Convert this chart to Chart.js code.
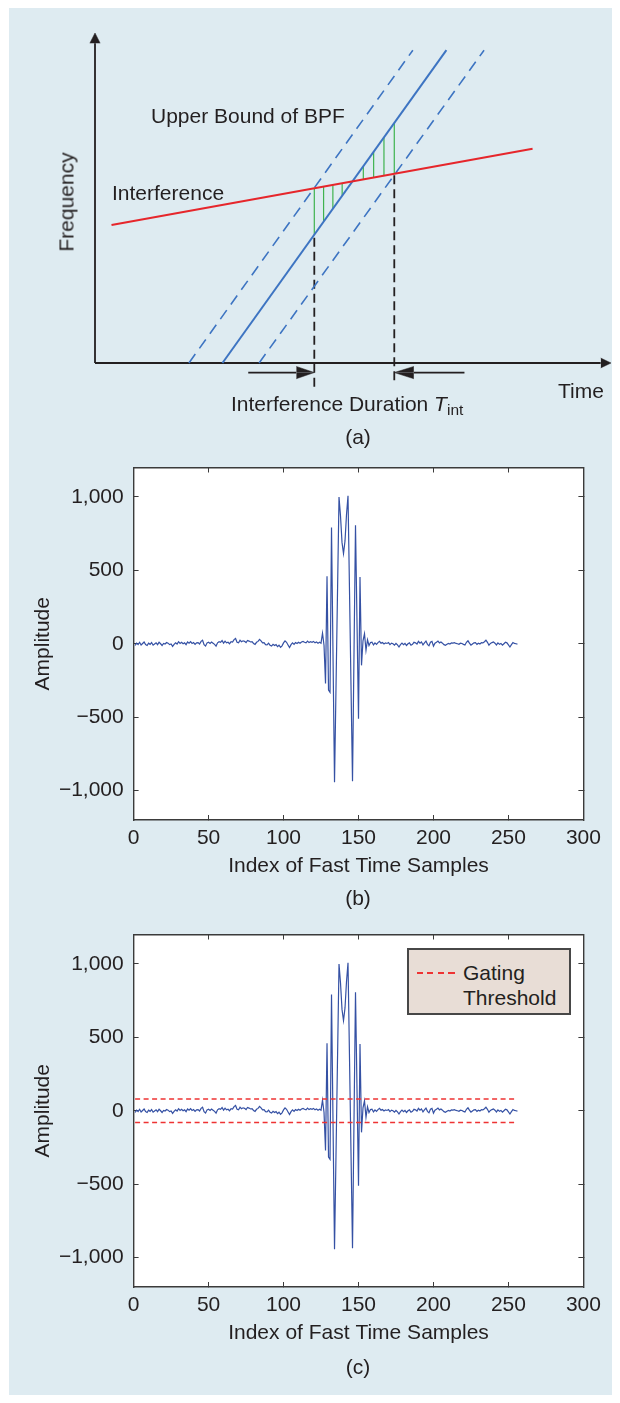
<!DOCTYPE html>
<html>
<head>
<meta charset="utf-8">
<script src="https://cdn.jsdelivr.net/npm/chart.js@4.4.1/dist/chart.umd.min.js"></script>
<style>
  body { margin: 0; width: 620px; height: 1403px; position: relative; overflow: hidden; background: #fff;
         font-family: "Liberation Sans", Arial, Helvetica, sans-serif; color: #231f20; }
  #bg { position: absolute; left: 9px; top: 8px; width: 603px; height: 1387px; background: #deebf1; }
  canvas { position: absolute; left: 0; }
  .lbl { position: absolute; font-size: 21px; line-height: 21px; white-space: nowrap; }
  .cap { transform: translateX(-50%); }
  #freq { transform: translate(-50%, -50%) rotate(-90deg); }
  #gateKey { position: absolute; left: 407px; top: 948px; width: 160px; height: 63px;
             background: #e8ddd6; border: 2px solid #474747; }
  #gateKey .swatch { position: absolute; left: 8px; top: 22px; width: 38px; height: 1.5px;
             background: repeating-linear-gradient(90deg, #ee3333 0 6px, transparent 6px 10.5px); }
  #gateKey .txt { position: absolute; left: 54px; top: 10px; font-size: 21px; line-height: 25px; }
</style>
</head>
<body>
<div id="bg"></div>
<canvas id="schematic" width="620" height="440" style="top:0"></canvas>
<canvas id="rawSig" width="620" height="460" style="top:440px"></canvas>
<canvas id="gatedSig" width="620" height="460" style="top:907px"></canvas>

<div class="lbl" style="left:151px;top:105px">Upper Bound of BPF</div>
<div class="lbl" style="left:112px;top:182px">Interference</div>
<div class="lbl" id="freq" style="left:66px;top:202px">Frequency</div>
<div class="lbl" style="left:558px;top:380px">Time</div>
<div class="lbl" style="left:231px;top:393px">Interference Duration <i>T</i><span style="font-size:15.5px;position:relative;top:4px">int</span></div>
<div class="lbl cap" style="left:358px;top:426px">(a)</div>
<div class="lbl cap" style="left:358px;top:887px">(b)</div>
<div class="lbl cap" style="left:358px;top:1356px">(c)</div>
<div id="gateKey"><div class="swatch"></div><div class="txt">Gating<br>Threshold</div></div>

<script>
/* ---- (a) schematic: arbitrary units, axis corner = (0,0), arrow tips = 100 ---- */
const chirpT     = [24.7, 68.1];          // receiver chirp, solid blue
const bpfUpperT  = [18.2, 61.6];          // dashed, upper bound of BPF
const bpfLowerT  = [31.8, 75.4];          // dashed, lower bound of BPF
const chirpF     = [0, 94.8];
const interfT    = [3.2, 84.8];           // interference, red
const interfF    = [41.8, 64.9];
const greenT     = [42.5, 44.3, 46.1, 47.9, 52.0, 54.0, 56.0, 58.0];
const greenLo    = [38.9, 42.8, 46.7, 50.7, 55.6, 56.2, 56.7, 57.3];
const greenHi    = [52.9, 53.4, 53.9, 54.4, 59.6, 64.0, 68.4, 72.7];
const markerT    = [42.5, 58.0];          // start / end of interference
const markerTop  = [38.9, 57.3];
const markerBot  = [-7.2, -5.2];
const durShaftT  = [[29.7, 39.0], [61.8, 71.6]];
const durTipT    = [42.5, 58.0];
const durBaseT   = [39.0, 61.8];
const durF       = -2.9;
const durHalf    = 1.87;
const axisEndT   = 98.0, axisEndF = 96.9;
const arrowHalfT = 1.0, arrowHalfF = 1.5;

/* ---- (b)/(c) fast-time samples ---- */
const amplitude = [
  -12, 4, -5, 10, -8, 2, 12, -6, -12, 4,
  -4, 8, -10, -2, 6, -6, 10, 0, -12, 2,
  -2, 8, 4, -6, -2, -18, -4, 6, -2, 14,
  2, 10, 0, 6, -6, 12, 4, 14, 2, 8,
  -4, 6, 8, -2, 16, 24, -6, -16, 6, 10,
  2, 12, 4, -4, -16, 6, 14, 10, 22, 4,
  18, 6, 10, 0, 14, 12, 28, 36, 10, 6,
  24, 14, 20, 16, 8, 22, 18, 12, 14, 2,
  -4, 10, 16, 30, 20, 6, 8, -6, -8, 4,
  -10, -16, -4, -12, -6, -20, -10, -24, -14, 6,
  20, 10, -8, -26, -6, 6, -4, 8, 2, 10,
  4, 12, 16, 10, 6, 18, 8, 14, 10, 16,
  6, 12, 4, 10, 4, 72, -10, -271, 459, -315,
  -330, 791, -76, -943, -296, 351, 999, 870, 690, 614,
  700, 880, 1008, 360, -288, -936, -65, 807, 148, -511,
  454, -147, 20, 68, -45, 27, -12, 8, 10, -8,
  6, -4, 8, 16, 4, 8, -2, 6, 2, 8,
  -6, 4, 0, -10, 2, -8, -22, -6, 4, -6,
  2, -12, 0, 6, -10, -4, 10, 6, -2, 16,
  4, 12, -8, 6, 18, -4, -14, 10, 16, -16,
  4, 10, 18, 6, 12, 4, -6, -10, -4, 2,
  -2, 6, 4, 8, 2, 0, -4, 4, 2, -4,
  -8, 10, 20, 4, -10, -2, 6, 8, -4, 4,
  -2, 8, 6, 14, 24, 10, -10, 2, 8, 12,
  4, -8, 6, -4, 2, -10, 0, 10, 6, -8,
  -22, -6, 8, 2, 0, -2
];
const sampleIdx  = amplitude.map((_, i) => i + 1);
const gateLevel  = [80, -80];
const gateSpan   = [1, 256];
const xTickVals  = [0, 50, 100, 150, 200, 250, 300];
const yTickVals  = [-1000, -500, 0, 500, 1000];
const xRange = [0, 300], yRange = [-1200, 1200];

const FONT = { family: "'Liberation Sans', Arial, Helvetica, sans-serif", size: 21 };
const INK = "#231f20", FRAME = "#3b3b3b";
const BLUE = "#3d74c2", RED = "#e6262b", GREEN = "#3fb34f", SIG = "#3551a4", GATE = "#ee3333";

const pts = (xs, ys) => xs.map((x, i) => ({ x, y: ys[i] }));
const seg = (data, color, width, dash) => ({
  data, borderColor: color, backgroundColor: color, borderWidth: width, borderDash: dash || [],
  pointRadius: 0, tension: 0, clip: false, fill: false, spanGaps: false,
});
// half of a filled arrowhead: edge line filled down/up to the arrow's centre line
const halfHead = (data, centre) => Object.assign(seg(data, INK, 0.5), { fill: { value: centre } });

/* ---------- chart (a) ---------- */
const gap = x => ({ x, y: null });
const greenData  = greenT.flatMap((t, i) => [{ x: t, y: greenLo[i] }, { x: t, y: greenHi[i] }, gap(t)]);
const markerData = markerT.flatMap((t, i) => [{ x: t, y: markerBot[i] }, { x: t, y: markerTop[i] }, gap(t)]);
const shaftData  = durShaftT.flatMap(s => [{ x: s[0], y: durF }, { x: s[1], y: durF }, gap(s[1])]);
const axesData   = [{ x: 0, y: 0 }, { x: 0, y: axisEndF }, gap(0), { x: 0, y: 0 }, { x: axisEndT, y: 0 }];

const heads = [
  halfHead([{ x: -arrowHalfT, y: axisEndF }, { x: 0, y: 100 }, { x: arrowHalfT, y: axisEndF }], axisEndF),
  halfHead([{ x: axisEndT, y: arrowHalfF }, { x: 100, y: 0 }], 0),
  halfHead([{ x: axisEndT, y: -arrowHalfF }, { x: 100, y: 0 }], 0),
];
durTipT.forEach((tip, i) => {
  const base = durBaseT[i];
  const order = (a, b) => (a.x < b.x ? [a, b] : [b, a]);
  heads.push(halfHead(order({ x: base, y: durF + durHalf }, { x: tip, y: durF }), durF));
  heads.push(halfHead(order({ x: base, y: durF - durHalf }, { x: tip, y: durF }), durF));
});

new Chart(document.getElementById("schematic"), {
  type: "line",
  data: {
    datasets: [
      seg(pts(interfT, interfF), RED, 2),
      seg(pts(chirpT, chirpF), BLUE, 2),
      seg(pts(bpfUpperT, chirpF), BLUE, 1.6, [11, 7]),
      seg(pts(bpfLowerT, chirpF), BLUE, 1.6, [11, 7]),
      seg(markerData, INK, 1.8, [9, 5]),
      seg(greenData, GREEN, 1.2),
      seg(axesData, INK, 1.8),
      seg(shaftData, INK, 1.8),
      ...heads,
    ],
  },
  options: {
    responsive: false, animation: false, events: [],
    // chart area spans t -2..100 and f -8..100 so the arrowhead fills are not clipped
    layout: { padding: { left: 84.68, right: 9, top: 33, bottom: 50.6 } },
    scales: {
      x: { type: "linear", min: -2, max: 100, display: false },
      y: { type: "linear", min: -8, max: 100, display: false },
    },
    plugins: { legend: { display: false }, tooltip: { enabled: false } },
  },
});

/* ---------- charts (b) and (c) ---------- */
const whitePlot = {
  id: "whitePlot",
  beforeDraw(c) {
    const { ctx, chartArea: a } = c;
    ctx.save(); ctx.fillStyle = "#fff"; ctx.fillRect(a.left, a.top, a.width, a.height); ctx.restore();
  },
};
const fmtAmp = v => (v < 0 ? "\u2212" : "") + Math.abs(v).toLocaleString("en-US");
const frameGrid = { drawOnChartArea: false, drawTicks: true, tickLength: -5, tickColor: FRAME, tickWidth: 1 };
const frameBorder = { display: true, color: FRAME, width: 1.4 };
const useTicks = vals => s => { s.ticks = vals.map(value => ({ value })); };

function signalChart(id, gated) {
  const datasets = [{
    data: pts(sampleIdx, amplitude), borderColor: SIG, borderWidth: 1.2,
    pointRadius: 0, tension: 0, order: 1,
  }];
  if (gated) gateLevel.forEach(v => datasets.push({
    label: "Gating Threshold", data: gateSpan.map(x => ({ x, y: v })),
    borderColor: GATE, borderWidth: 1.4, borderDash: [5, 3.5], pointRadius: 0, order: 0,
  }));
  const xBase = { type: "linear", min: xRange[0], max: xRange[1], grid: frameGrid, border: frameBorder,
                  afterBuildTicks: useTicks(xTickVals) };
  const yBase = { type: "linear", min: yRange[0], max: yRange[1], grid: frameGrid, border: frameBorder,
                  afterBuildTicks: useTicks(yTickVals) };
  return new Chart(document.getElementById(id), {
    type: "line",
    data: { datasets },
    plugins: [whitePlot],
    options: {
      responsive: false, animation: false, events: [],
      layout: { padding: { top: 25.7, right: 36.6, bottom: 0, left: 0 } },
      scales: {
        x: { ...xBase, position: "bottom",
          ticks: { font: FONT, color: INK, padding: 10.7, maxRotation: 0, autoSkip: false },
          title: { display: true, text: "Index of Fast Time Samples", font: FONT, color: INK, padding: { top: 0, bottom: 20.7 } },
          afterFit: s => { s.height = 80; } },
        x2: { ...xBase, axis: "x", position: "top", ticks: { display: false },
          afterFit: s => { s.height = 0; } },
        y: { ...yBase, position: "left",
          ticks: { callback: fmtAmp, font: FONT, color: INK, padding: 14.9, autoSkip: false },
          title: { display: true, text: "Amplitude", font: FONT, color: INK, padding: { top: 30.9, bottom: 0 } },
          afterFit: s => { s.width = 133.6; } },
        y2: { ...yBase, axis: "y", position: "right", ticks: { display: false },
          afterFit: s => { s.width = 0; } },
      },
      plugins: { legend: { display: false }, tooltip: { enabled: false } },
    },
  });
}
signalChart("rawSig", false);
signalChart("gatedSig", true);
</script>
</body>
</html>
